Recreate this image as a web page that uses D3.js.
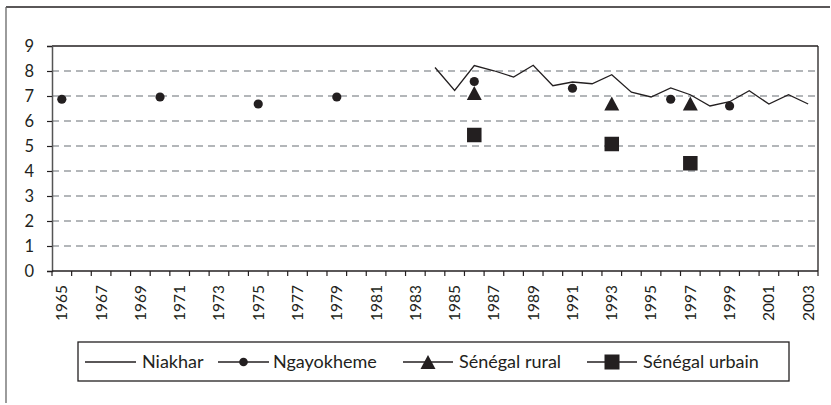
<!DOCTYPE html>
<html><head><meta charset="utf-8">
<script src="https://cdn.jsdelivr.net/npm/d3@7"></script>
<style>body{margin:0;background:#fff}svg{display:block}</style>
</head><body>
<script>
const years = d3.range(1965, 2004);
const yTicks = [0,1,2,3,4,5,6,7,8,9];
const niakharYears = [1984,1985,1986,1987,1988,1989,1990,1991,1992,1993,1994,1995,1996,1997,1998,1999,2000,2001,2002,2003];
const niakharValues = [8.14,7.22,8.22,8.01,7.76,8.23,7.41,7.56,7.49,7.85,7.15,6.96,7.32,7.05,6.6,6.77,7.21,6.68,7.05,6.68];
const ngayYears = [1965,1970,1975,1979,1986,1991,1996,1999];
const ngayValues = [6.87,6.96,6.68,6.96,7.58,7.31,6.87,6.6];
const ruralYears = [1986,1993,1997];
const ruralValues = [7.12,6.7,6.7];
const urbainYears = [1986,1993,1997];
const urbainValues = [5.44,5.08,4.31];
const legendLabels = ["Niakhar","Ngayokheme","Sénégal rural","Sénégal urbain"];

const W = 831, H = 405;
const ink = "#231f20";
const font = "Lato, 'Open Sans', sans-serif";
const svg = d3.select("body").append("svg").attr("width", W).attr("height", H);

const x = d3.scaleBand().domain(years).range([52, 818]).padding(0);
const y = d3.scaleLinear().domain([0, 9]).range([271, 46]);
const cx = d => x(d) + x.bandwidth() / 2;

// outer frame (top & left)
svg.append("line").attr("x1", 6).attr("x2", 830).attr("y1", 7).attr("y2", 7).attr("stroke", ink).attr("stroke-width", 1.3);
svg.append("line").attr("x1", 6).attr("x2", 6).attr("y1", 7).attr("y2", 403).attr("stroke", "#666").attr("stroke-width", 1.3);

// gridlines
svg.append("g").selectAll("line").data(yTicks.filter(t => t > 0 && t < 9)).join("line")
  .attr("x1", 52).attr("x2", 818).attr("y1", d => y(d)).attr("y2", d => y(d))
  .attr("stroke", "#9a9ea3").attr("stroke-width", 1.3).attr("stroke-dasharray", "7,5");

// plot border top & right
svg.append("line").attr("x1", 52).attr("x2", 818).attr("y1", y(9)).attr("y2", y(9)).attr("stroke", ink).attr("stroke-width", 1.3);
svg.append("line").attr("x1", 818).attr("x2", 818).attr("y1", y(9)).attr("y2", y(0)).attr("stroke", ink).attr("stroke-width", 1.3);

// y axis
const yAxis = svg.append("g").attr("transform", "translate(52,0)")
  .call(d3.axisLeft(y).tickValues(yTicks).tickSize(5).tickPadding(13).tickFormat(d3.format("d")));
yAxis.select(".domain").attr("stroke", "#555").attr("stroke-width", 1.5);
yAxis.selectAll(".tick line").attr("stroke", ink).attr("stroke-width", 1.2);
yAxis.selectAll("text").attr("font-family", font).attr("font-size", 16.5).attr("fill", ink);

// x axis
svg.append("line").attr("x1", 52).attr("x2", 818).attr("y1", y(0)).attr("y2", y(0)).attr("stroke", ink).attr("stroke-width", 1.5);
const bounds = years.map(d => x(d)).concat([x(years[years.length-1]) + x.bandwidth()]);
svg.append("g").selectAll("line").data(bounds).join("line")
  .attr("x1", d => d).attr("x2", d => d).attr("y1", y(0)).attr("y2", y(0) + 5)
  .attr("stroke", ink).attr("stroke-width", 1.2);
svg.append("g").selectAll("text").data(years.filter((d, i) => i % 2 === 0)).join("text")
  .attr("transform", d => `translate(${cx(d)},${y(0) + 14}) rotate(-90)`)
  .attr("text-anchor", "end").attr("dy", "0.35em")
  .attr("font-family", font).attr("font-size", 15.5).attr("fill", ink)
  .text(d => d);

// Niakhar line
const line = d3.line().x((d, i) => cx(niakharYears[i])).y(d => y(d));
svg.append("path").datum(niakharValues).attr("d", line)
  .attr("fill", "none").attr("stroke", ink).attr("stroke-width", 1.3).attr("stroke-linejoin", "miter");

// markers
function triPath(px, py, w, h) {
  return `M${px},${py - h/2}L${px + w/2},${py + h/2}L${px - w/2},${py + h/2}Z`;
}
svg.append("g").selectAll("circle").data(ngayValues).join("circle")
  .attr("cx", (d, i) => cx(ngayYears[i])).attr("cy", d => y(d)).attr("r", 4.6).attr("fill", ink);
svg.append("g").selectAll("path").data(ruralValues).join("path")
  .attr("d", (d, i) => triPath(cx(ruralYears[i]), y(d), 15, 14)).attr("fill", ink);
svg.append("g").selectAll("rect").data(urbainValues).join("rect")
  .attr("x", (d, i) => cx(urbainYears[i]) - 7.25).attr("y", d => y(d) - 7.25)
  .attr("width", 14.5).attr("height", 14.5).attr("fill", ink);

// legend
const lg = svg.append("g");
lg.append("rect").attr("x", 78).attr("y", 342).attr("width", 711).attr("height", 39)
  .attr("fill", "#fff").attr("stroke", ink).attr("stroke-width", 1.3);
const ly = 362;
const items = [
  {x0: 85, x1: 136, tx: 142, m: "none"},
  {x0: 218, x1: 269, tx: 273, m: "circle"},
  {x0: 403, x1: 453, tx: 459, m: "tri"},
  {x0: 587, x1: 637, tx: 643, m: "sq"}
];
items.forEach((it, i) => {
  lg.append("line").attr("x1", it.x0).attr("x2", it.x1).attr("y1", ly).attr("y2", ly).attr("stroke", ink).attr("stroke-width", 1.3);
  const mx = (it.x0 + it.x1) / 2;
  if (it.m === "circle") lg.append("circle").attr("cx", mx).attr("cy", ly).attr("r", 4.3).attr("fill", ink);
  if (it.m === "tri") lg.append("path").attr("d", triPath(mx, ly, 15, 14)).attr("fill", ink);
  if (it.m === "sq") lg.append("rect").attr("x", mx - 7.5).attr("y", ly - 7.5).attr("width", 15).attr("height", 15).attr("fill", ink);
  lg.append("text").attr("x", it.tx).attr("y", ly).attr("dy", "0.35em")
    .attr("font-family", font).attr("font-size", 18).attr("fill", ink).text(legendLabels[i]);
});
</script>
</body></html>
